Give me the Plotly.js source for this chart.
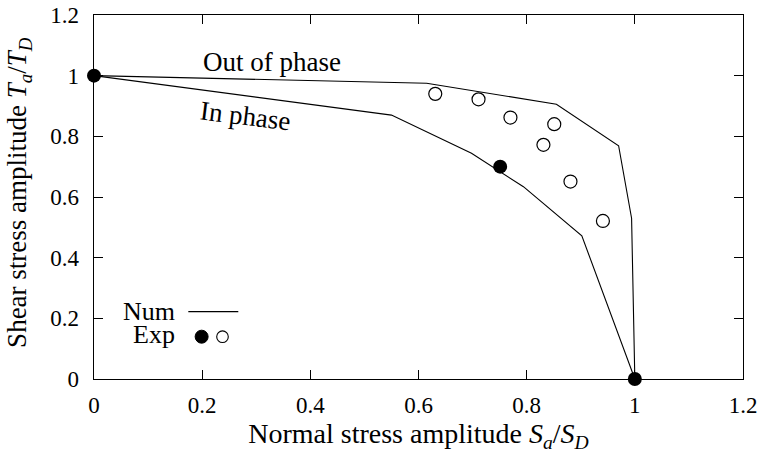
<!DOCTYPE html>
<html>
<head>
<meta charset="utf-8">
<script src="https://cdn.plot.ly/plotly-3.0.1.min.js"></script>
<style>html,body{margin:0;padding:0;background:#fff;}#chart{width:765px;height:456px;}</style>
</head>
<body>
<div id="chart"></div>
<script>
// Numerical curves
const outPhaseX = [0, 0.615, 0.855, 0.970, 0.994, 1.0];
const outPhaseY = [1, 0.975, 0.906, 0.769, 0.530, 0];
const inPhaseX = [0, 0.550, 0.698, 0.794, 0.902, 1.0];
const inPhaseY = [1, 0.870, 0.744, 0.634, 0.472, 0];
// Experimental points
const expInX = [0, 0.751, 1.0];
const expInY = [1, 0.700, 0];
const expOutX = [0.631, 0.711, 0.770, 0.851, 0.831, 0.881, 0.941];
const expOutY = [0.940, 0.922, 0.862, 0.840, 0.772, 0.651, 0.521];
const tickVals = [0, 0.2, 0.4, 0.6, 0.8, 1, 1.2];
const tickText = ['0', '0.2', '0.4', '0.6', '0.8', '1', '1.2'];

const FONT = '"Liberation Serif", serif';

const traces = [
  {x: outPhaseX, y: outPhaseY, mode: 'lines', line: {color: '#000', width: 1.1}, hoverinfo: 'skip'},
  {x: inPhaseX, y: inPhaseY, mode: 'lines', line: {color: '#000', width: 1.1}, hoverinfo: 'skip'},
  {x: expOutX, y: expOutY, mode: 'markers', marker: {symbol: 'circle-open', size: 13, color: '#000', line: {width: 1.2, color: '#000'}}, hoverinfo: 'skip'},
  {x: expInX, y: expInY, mode: 'markers', marker: {symbol: 'circle', size: 14, color: '#000'}, hoverinfo: 'skip', cliponaxis: false}
];

const axisCommon = {
  range: [0, 1.2], tickvals: tickVals, ticktext: tickText,
  ticks: 'inside', ticklen: 9, tickwidth: 1, tickcolor: '#000',
  showline: true, linecolor: '#000', linewidth: 1.3, mirror: 'ticks',
  showgrid: false, zeroline: false
};

const layout = {
  width: 765, height: 456,
  margin: {l: 94, r: 22, t: 15, b: 77},
  paper_bgcolor: '#fff', plot_bgcolor: '#fff',
  showlegend: false,
  font: {family: FONT, size: 23, color: '#000'},
  xaxis: Object.assign({}, axisCommon, {
    ticklabelstandoff: 5,
    title: {text: 'Normal stress amplitude <i>S<sub>a</sub></i>/<i>S<sub>D</sub></i>', font: {size: 28}, standoff: 6}
  }),
  yaxis: Object.assign({}, axisCommon, {
    ticklabelstandoff: 9
  }),
  annotations: [
    {x: -0.1156, y: 0.514, xref: 'paper', yref: 'paper', xanchor: 'center', yanchor: 'middle', textangle: -90,
     text: 'Shear stress amplitude <i>T<sub>a</sub></i>/<i>T<sub>D</sub></i>', showarrow: false, font: {size: 27}},
    {x: 0.329, y: 1.045, xref: 'x', yref: 'y', text: 'Out of phase', showarrow: false, font: {size: 27}},
    {x: 0.281, y: 0.867, xref: 'x', yref: 'y', text: 'In phase', showarrow: false, textangle: 7, font: {size: 27}},
    {x: 0.153, y: 0.221, xref: 'x', yref: 'y', text: 'Num', showarrow: false, xanchor: 'right', font: {size: 26}},
    {x: 0.153, y: 0.148, xref: 'x', yref: 'y', text: 'Exp', showarrow: false, xanchor: 'right', font: {size: 26}}
  ],
  shapes: [
    {type: 'line', xref: 'x', yref: 'y', x0: 0.1744, x1: 0.2668, y0: 0.222, y1: 0.222, line: {color: '#000', width: 1.1}},
    {type: 'circle', xref: 'x', yref: 'y', xsizemode: 'pixel', ysizemode: 'pixel', xanchor: 0.199, yanchor: 0.1395, x0: -6.5, x1: 6.5, y0: -6.5, y1: 6.5, fillcolor: '#000', line: {color: '#000', width: 1}},
    {type: 'circle', xref: 'x', yref: 'y', xsizemode: 'pixel', ysizemode: 'pixel', xanchor: 0.2376, yanchor: 0.1395, x0: -5.8, x1: 5.8, y0: -5.8, y1: 5.8, fillcolor: 'rgba(0,0,0,0)', line: {color: '#000', width: 1.1}}
  ]
};

Plotly.newPlot('chart', traces, layout, {staticPlot: true, displayModeBar: false});
</script>
</body>
</html>
